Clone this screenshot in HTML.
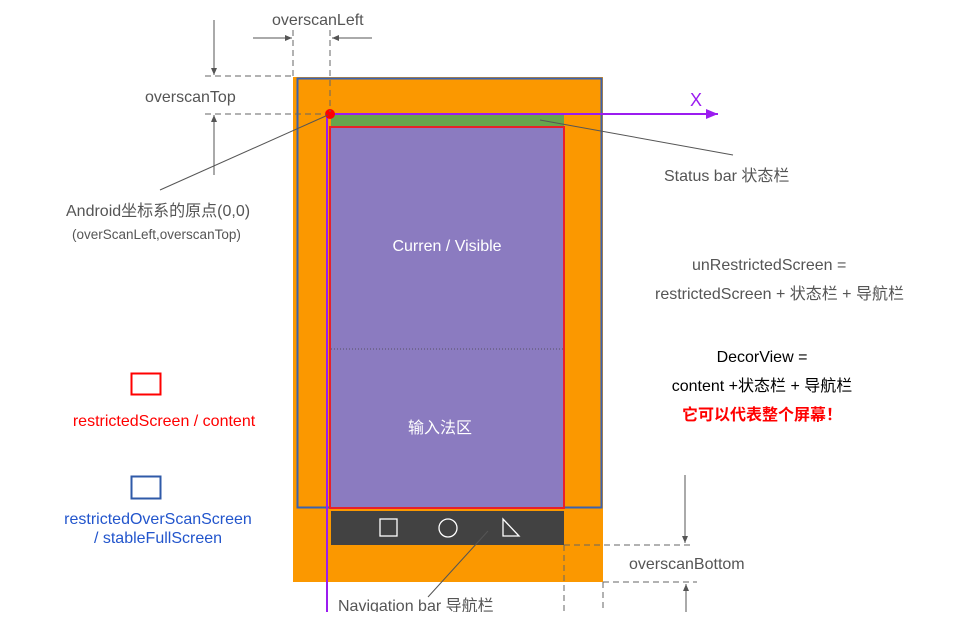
<!DOCTYPE html>
<html><head><meta charset="utf-8"><style>
body{margin:0;width:960px;height:612px;background:#fff;overflow:hidden;font-family:"Liberation Sans","Noto Sans CJK SC",sans-serif}
svg text{font-family:"Liberation Sans","Noto Sans CJK SC",sans-serif}
</style></head><body>
<svg width="960" height="612" viewBox="0 0 960 612" xmlns="http://www.w3.org/2000/svg">
<defs>
<marker id="a" markerWidth="8" markerHeight="8" refX="7" refY="4" orient="auto" markerUnits="userSpaceOnUse"><path d="M0,1 L7,4 L0,7 Z" fill="#555"/></marker>
<marker id="p" markerWidth="14" markerHeight="12" refX="12" refY="6" orient="auto" markerUnits="userSpaceOnUse"><path d="M0,1 L12,6 L0,11 Z" fill="#9b1cf0"/></marker>
</defs>
<rect x="293" y="77" width="310" height="505" fill="#fb9800"/>
<rect x="297.5" y="78.5" width="304" height="429" fill="none" stroke="#3a62b0" stroke-width="2"/>
<rect x="331" y="114" width="233" height="13" fill="#67a54c"/>
<rect x="331" y="127" width="233" height="381" fill="#8b7bc0"/>
<rect x="330" y="127" width="234" height="381" fill="none" stroke="#e8202a" stroke-width="2"/>
<line x1="331" y1="349" x2="563" y2="349" stroke="#444" stroke-dasharray="1,2" stroke-width="0.8"/>
<rect x="331" y="511" width="233" height="34" fill="#424242"/>
<rect x="380" y="519" width="17" height="17" fill="none" stroke="#fff" stroke-width="1.3"/>
<circle cx="448" cy="528" r="9" fill="none" stroke="#fff" stroke-width="1.3"/>
<path d="M503,519 L503,536 L519,536 Z" fill="none" stroke="#fff" stroke-width="1.3"/>
<line x1="327" y1="114" x2="327" y2="612" stroke="#9b1cf0" stroke-width="2"/>
<line x1="330" y1="114" x2="718" y2="114" stroke="#9b1cf0" stroke-width="2" marker-end="url(#p)"/>
<circle cx="330" cy="114" r="5" fill="#f00"/>
<text x="690" y="106" font-size="18" fill="#9b1cf0">X</text>
<g stroke="#666" stroke-width="1" stroke-dasharray="6,4" fill="none">
<line x1="293" y1="30" x2="293" y2="77"/><line x1="330" y1="30" x2="330" y2="112"/>
<line x1="205" y1="76" x2="293" y2="76"/><line x1="205" y1="114" x2="326" y2="114"/>
<line x1="564" y1="545" x2="693" y2="545"/><line x1="603" y1="582" x2="697" y2="582"/>
<line x1="564" y1="545" x2="564" y2="612"/><line x1="603" y1="582" x2="603" y2="612"/>
</g>
<g stroke="#555" stroke-width="1" fill="none">
<line x1="253" y1="38" x2="292" y2="38" marker-end="url(#a)"/>
<line x1="372" y1="38" x2="332" y2="38" marker-end="url(#a)"/>
<line x1="214" y1="20" x2="214" y2="75" marker-end="url(#a)"/>
<line x1="214" y1="175" x2="214" y2="115" marker-end="url(#a)"/>
<line x1="685" y1="475" x2="685" y2="543" marker-end="url(#a)"/>
<line x1="686" y1="612" x2="686" y2="584" marker-end="url(#a)"/>
<line x1="160" y1="190" x2="328" y2="115"/>
<line x1="540" y1="120" x2="733" y2="155"/>
<line x1="488" y1="531" x2="428" y2="597"/>
</g>
<g font-size="16" fill="#555">
<text x="272" y="25">overscanLeft</text>
<text x="145" y="102">overscanTop</text>
<text x="664" y="181">Status bar 状态栏</text>
<text x="66" y="216">Android坐标系的原点(0,0)</text>
<text x="72" y="239" font-size="13.5">(overScanLeft,overscanTop)</text>
<text x="692" y="270">unRestrictedScreen =</text>
<text x="655" y="299">restrictedScreen + 状态栏 + 导航栏</text>
<text x="629" y="569">overscanBottom</text>
<text x="338" y="611">Navigation bar 导航栏</text>
</g>
<text x="447" y="251" font-size="16" fill="#fff" text-anchor="middle">Curren / Visible</text>
<text x="440" y="433" font-size="16" fill="#fff" text-anchor="middle">输入法区</text>
<g font-size="16" fill="#000" text-anchor="middle">
<text x="762" y="362">DecorView =</text>
<text x="762" y="391">content +状态栏 + 导航栏</text>
</g>
<text x="762" y="420" font-size="16" fill="#f00" text-anchor="middle" font-weight="bold">它可以代表整个屏幕！</text>
<rect x="131.5" y="373.5" width="29" height="21" fill="none" stroke="#f00" stroke-width="2"/>
<text x="164" y="426" font-size="16" fill="#f00" text-anchor="middle">restrictedScreen / content</text>
<rect x="131.5" y="476.5" width="29" height="22" fill="none" stroke="#2f5aa8" stroke-width="2"/>
<text x="158" y="524" font-size="16" fill="#2255cc" text-anchor="middle">restrictedOverScanScreen</text>
<text x="158" y="543" font-size="16" fill="#2255cc" text-anchor="middle">/ stableFullScreen</text>
</svg>
</body></html>
